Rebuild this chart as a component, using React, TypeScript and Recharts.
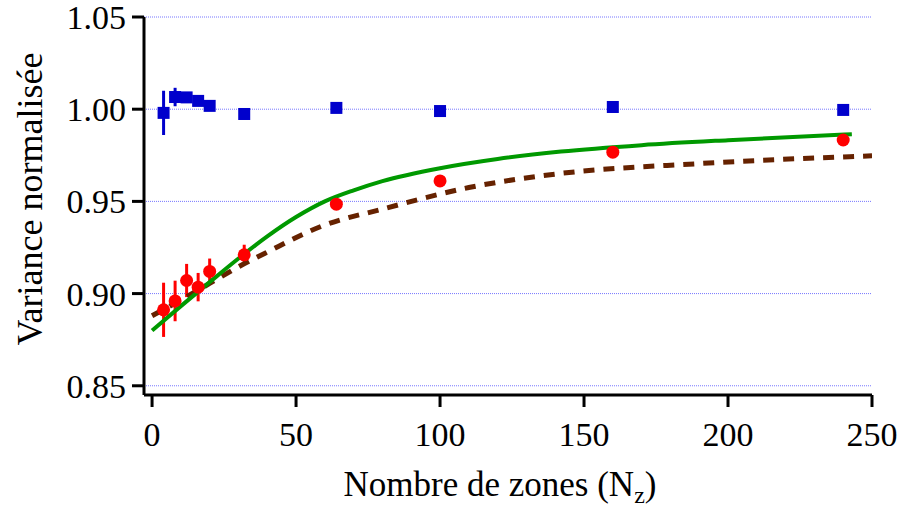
import { ComposedChart, Scatter, Line, XAxis, YAxis, CartesianGrid, ErrorBar, Label } from 'recharts'

// tick labels
const xTicks = [0, 50, 100, 150, 200, 250]
const yTicks = [0.85, 0.9, 0.95, 1.0, 1.05]

// measured points (zones, value, error)
const zones = [4, 8, 12, 16, 20, 32, 64, 100, 160, 240]
const blueValues = [0.998, 1.0066, 1.0064, 1.0045, 1.0018, 0.9974, 1.0007, 0.999, 1.0012, 0.9996]
const blueErrors = [0.012, 0.005, 0.002, 0.002, 0.002, 0.001, 0.001, 0.001, 0.001, 0.001]
const redValues = [0.8912, 0.896, 0.9071, 0.9035, 0.912, 0.921, 0.9485, 0.9611, 0.9767, 0.9833]
const redErrors = [0.0147, 0.011, 0.009, 0.0077, 0.007, 0.0055, 0.002, 0.002, 0.001, 0.001]

// model curves
const greenX = [0, 10, 20, 30, 40, 50, 60, 70, 80, 100, 120, 142, 170, 200, 243]
const greenY = [0.88, 0.8932, 0.9062, 0.919, 0.931, 0.9415, 0.95, 0.956, 0.961, 0.968, 0.973, 0.977, 0.9805, 0.9832, 0.9864]
const dashX = [0, 10, 20, 30, 40, 60, 80, 110, 140, 190, 250]
const dashY = [0.888, 0.8965, 0.9055, 0.9145, 0.9225, 0.9372, 0.9458, 0.9575, 0.9648, 0.9705, 0.9747]

const blueData = zones.map((x, i) => ({ x, y: blueValues[i], err: blueErrors[i] }))
const redData = zones.map((x, i) => ({ x, y: redValues[i], err: redErrors[i] }))
const greenData = greenX.map((x, i) => ({ x, y: greenY[i] }))
const dashData = dashX.map((x, i) => ({ x, y: dashY[i] }))

const font = 'Liberation Serif'
const axisStyle = { stroke: '#000', strokeWidth: 3 }

const XTick = (props: any) => (
  <text x={props.x} y={props.y + 35} textAnchor='middle' fontSize={34} fontFamily={font} fill='#000'>
    {props.payload.value}
  </text>
)

const YTick = (props: any) => (
  <text x={props.x} y={props.y + 12} textAnchor='end' fontSize={34} fontFamily={font} fill='#000'>
    {Number(props.payload.value).toFixed(2)}
  </text>
)

const XTitle = (props: any) => {
  const vb = props.viewBox || {}
  const cx = vb.x + vb.width / 2 - 8
  return (
    <text x={cx} y={496} textAnchor='middle' fontSize={35} fontFamily={font} fill='#000'>
      Nombre de zones (N
      <tspan fontSize={24} dy={7}>z</tspan>
      <tspan dy={-7}>)</tspan>
    </text>
  )
}

const YTitle = () => (
  <text
    x={0}
    y={0}
    transform='translate(42, 199) rotate(-90)'
    textAnchor='middle'
    fontSize={36}
    fontFamily={font}
    fill='#000'
  >
    Variance normalisée
  </text>
)

const Square = (props: any) => (
  <rect x={props.cx - 6} y={props.cy - 6} width={12} height={12} fill='#0000cc' />
)

const Dot = (props: any) => <circle cx={props.cx} cy={props.cy} r={6.5} fill='#ff0000' />

export default function App() {
  return (
    <div style={{ position: 'absolute', left: 0, top: 0, background: '#fff' }}>
      <ComposedChart width={901} height={511} margin={{ top: 17, right: 29, bottom: 0, left: 0 }}>
        <CartesianGrid vertical={false} stroke='#7777ff' strokeDasharray='1 1' />
        <XAxis
          type='number'
          dataKey='x'
          domain={[-2.8, 250]}
          ticks={xTicks}
          height={116}
          tickSize={12}
          tickMargin={4}
          axisLine={axisStyle}
          tickLine={axisStyle}
          tick={<XTick />}
          allowDataOverflow
        >
          <Label content={XTitle} />
        </XAxis>
        <YAxis
          type='number'
          dataKey='y'
          domain={[0.845, 1.05]}
          ticks={yTicks}
          width={144}
          tickSize={12}
          tickMargin={6}
          axisLine={axisStyle}
          tickLine={axisStyle}
          tick={<YTick />}
          allowDataOverflow
        >
          <Label content={YTitle} />
        </YAxis>
        <Scatter data={blueData} dataKey='y' shape={<Square />} isAnimationActive={false}>
          <ErrorBar dataKey='err' direction='y' width={0} stroke='#0000cc' strokeWidth={3} />
        </Scatter>
        <Scatter data={redData} dataKey='y' shape={<Dot />} isAnimationActive={false}>
          <ErrorBar dataKey='err' direction='y' width={0} stroke='#ff0000' strokeWidth={3} />
        </Scatter>
        <Line
          data={dashData}
          dataKey='y'
          type='monotone'
          stroke='#662200'
          strokeWidth={5}
          strokeDasharray='11 9'
          dot={false}
          isAnimationActive={false}
        />
        <Line
          data={greenData}
          dataKey='y'
          type='monotone'
          stroke='#009900'
          strokeWidth={4}
          dot={false}
          isAnimationActive={false}
        />
      </ComposedChart>
    </div>
  )
}
